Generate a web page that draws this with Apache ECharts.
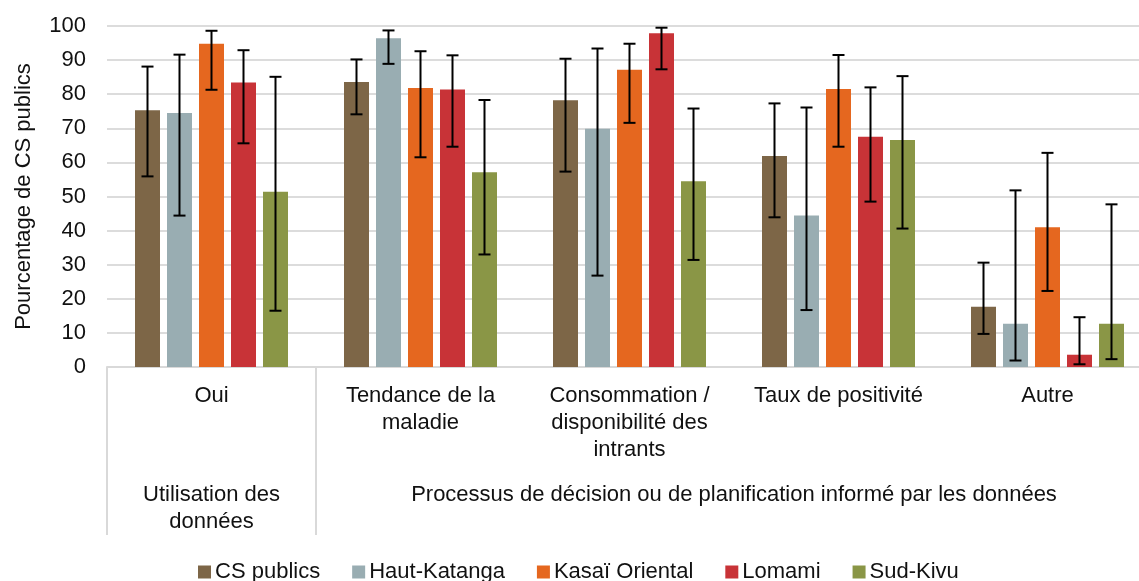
<!DOCTYPE html>
<html><head><meta charset="utf-8">
<script src="https://cdn.jsdelivr.net/npm/echarts@6/dist/echarts.min.js"></script>
<style>html,body{margin:0;padding:0;background:#fff}#c{width:1139px;height:581px}</style>
</head><body><div id="c"></div>
<script>
const categories = ['Oui', 'Tendance de la\nmaladie', 'Consommation /\ndisponibilité des\nintrants', 'Taux de positivité', 'Autre'];
const groupLabels = ['Utilisation des\ndonnées', 'Processus de décision ou de planification informé par les données'];
const groupSpans = [[0, 1], [1, 5]];
const seriesNames = ['CS publics', 'Haut-Katanga', 'Kasaï Oriental', 'Lomami', 'Sud-Kivu'];
const colors = ['#7D6647', '#99ADB2', '#E5671F', '#C83337', '#8A9646'];
const csPublics   = [75.3, 83.6, 78.2, 61.9, 17.7];
const hautKatanga = [74.5, 96.4, 69.9, 44.4, 12.7];
const kasaiOr     = [94.8, 81.8, 87.2, 81.5, 41.0];
const lomami      = [83.4, 81.4, 97.9, 67.5, 3.6];
const sudKivu     = [51.4, 57.1, 54.5, 66.6, 12.7];
const csLow  = [55.9, 74.1, 57.3, 43.9, 9.7];
const csHigh = [88.1, 90.2, 90.4, 77.3, 30.6];
const hkLow  = [44.4, 88.9, 26.8, 16.7, 1.9];
const hkHigh = [91.6, 98.7, 93.4, 76.1, 51.8];
const koLow  = [81.3, 61.5, 71.6, 64.6, 22.3];
const koHigh = [98.6, 92.6, 94.8, 91.5, 62.8];
const loLow  = [65.6, 64.6, 87.3, 48.5, 0.8];
const loHigh = [92.9, 91.4, 99.5, 82.0, 14.6];
const skLow  = [16.5, 33.0, 31.4, 40.6, 2.3];
const skHigh = [85.1, 78.3, 75.8, 85.3, 47.7];
const yTicks = {min: 0, max: 100, interval: 10};

const values = [csPublics, hautKatanga, kasaiOr, lomami, sudKivu];
const lows = [csLow, hkLow, koLow, loLow, skLow];
const highs = [csHigh, hkHigh, koHigh, loHigh, skHigh];

const FONT = 'Liberation Sans';
const BAR_W = 25, GAP = 0.28;
const chart = echarts.init(document.getElementById('c'));

const series = [];
values.forEach((v, i) => {
  series.push({
    name: seriesNames[i], type: 'bar', data: v, xAxisIndex: 0,
    barWidth: BAR_W, barGap: (GAP * 100) + '%',
    itemStyle: {color: colors[i]}, z: 2
  });
});
values.forEach((v, i) => {
  const off = (i - (values.length - 1) / 2) * BAR_W * (1 + GAP);
  series.push({
    name: 'err' + i, type: 'custom', xAxisIndex: 0, z: 5,
    data: v.map((_, k) => [k, lows[i][k], highs[i][k]]),
    encode: {x: 0, y: [1, 2]},
    renderItem: function (params, api) {
      const x = api.coord([api.value(0), 0])[0] + off;
      const yl = api.coord([api.value(0), api.value(1)])[1];
      const yh = api.coord([api.value(0), api.value(2)])[1];
      const st = {stroke: '#000', lineWidth: 2};
      return {type: 'group', children: [
        {type: 'line', shape: {x1: x, y1: yl, x2: x, y2: yh}, style: st},
        {type: 'line', shape: {x1: x - 6, y1: yl, x2: x + 6, y2: yl}, style: st},
        {type: 'line', shape: {x1: x - 6, y1: yh, x2: x + 6, y2: yh}, style: st}
      ]};
    }
  });
});

const groupCenters = groupSpans.map(s => (s[0] + s[1]) / 2);
const sepValues = [0, groupSpans[0][1], categories.length];

chart.setOption({
  animation: false,
  textStyle: {fontFamily: FONT},
  grid: {left: 107, width: 1045, top: 26, bottom: 214, containLabel: false, outerBoundsMode: 'none'},
  legend: {
    data: seriesNames, left: 193, top: 556, itemWidth: 13, itemHeight: 13, itemGap: 32,
    icon: 'rect',
    textStyle: {fontFamily: FONT, fontSize: 22, color: '#111', lineHeight: 22, padding: [0, 0, 0, -1]}
  },
  xAxis: [
    {
      type: 'category', data: categories, position: 'bottom',
      axisLine: {show: true, lineStyle: {color: '#d9d9d9', width: 2}},
      axisTick: {show: false},
      axisLabel: {interval: 0, fontFamily: FONT, fontSize: 22, color: '#111', lineHeight: 27, margin: 15, align: 'center'}
    },
    {
      type: 'value', min: 0, max: categories.length, position: 'bottom',
      axisLine: {show: false}, splitLine: {show: false},
      axisTick: {show: true, customValues: sepValues, length: 168, lineStyle: {color: '#d9d9d9', width: 2}},
      axisLabel: {
        customValues: groupCenters, fontFamily: FONT, fontSize: 22, color: '#111', lineHeight: 27, margin: 114,
        showMinLabel: true, showMaxLabel: true,
        formatter: function (v) { const i = groupCenters.indexOf(v); return i >= 0 ? groupLabels[i] : ''; }
      }
    }
  ],
  yAxis: {
    type: 'value', min: yTicks.min, max: yTicks.max, interval: yTicks.interval,
    name: 'Pourcentage de CS publics', nameLocation: 'middle', nameGap: 72, nameRotate: 90,
    nameTextStyle: {fontFamily: FONT, fontSize: 22, color: '#111'},
    axisLine: {show: false}, axisTick: {show: false},
    axisLabel: {fontFamily: FONT, fontSize: 22, color: '#111', margin: 21},
    splitLine: {lineStyle: {color: '#dcdcdc', width: 2}}
  },
  series: series
});
</script></body></html>
